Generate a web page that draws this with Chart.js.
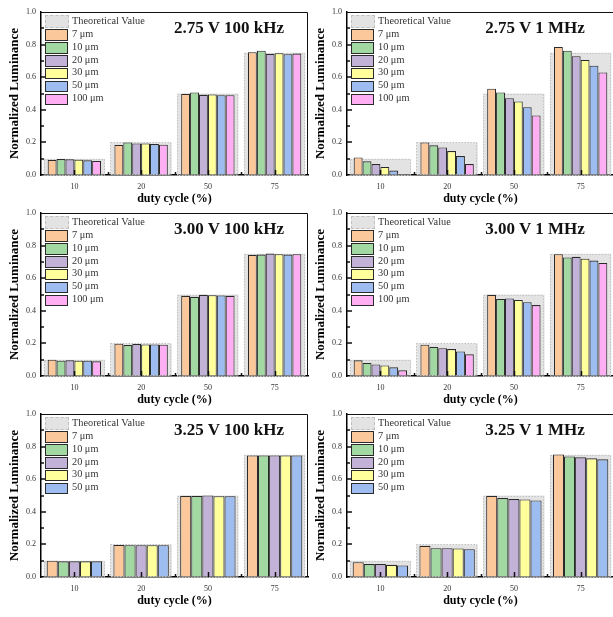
<!DOCTYPE html>
<html>
<head>
<meta charset="utf-8">
<script src="https://cdn.jsdelivr.net/npm/chart.js@4.4.0/dist/chart.umd.min.js"></script>
<style>
  html, body { margin: 0; padding: 0; background: #fff; width: 613px; height: 617px; overflow: hidden; }
  #fig { position: relative; width: 613px; height: 617px; overflow: hidden; }
  .panel { position: absolute; width: 310px; height: 207px; }
  .panel canvas { position: absolute; left: 0; top: 0; }
  .legend { position: absolute; left: 45px; top: 16px; font: 10.3px "Liberation Serif", serif; color: #333; }
  .legend .row { position: relative; height: 12.85px; }
  .legend .sw { position: absolute; left: 0; top: 0.5px; width: 21px; height: 9.5px; border: 1.3px solid #2a2a2a; }
  .legend .sw.theo { background: #e3e3e3; border: 1px dashed #c0c0c0; width: 22px; height: 11px; top: -1px; }
  .legend .lbl { position: absolute; left: 27px; top: -1px; white-space: nowrap; line-height: 12px; }
  .ptitle { position: absolute; top: 18px; width: 200px; margin-left: -100px; text-align: center;
            font: bold 17px "Liberation Serif", serif; color: #111; line-height: 20px; }
</style>
</head>
<body>
<div id="fig"></div>
<script>
(function () {
  // Catégories (axe x) et valeur théorique
  const dutyCycles = ['10', '20', '50', '75'];
  const theoretical = [0.1, 0.2, 0.5, 0.75];

  // Largeurs de pixel et couleurs des séries
  const pixelWidths = ['7 μm', '10 μm', '20 μm', '30 μm', '50 μm', '100 μm'];
  const barColors = ['#FAC89B', '#A2D8A2', '#C2B2D8', '#FFFF9C', '#9DBDF0', '#FFAEF4'];

  const panelTitles = ['2.75 V 100 kHz', '2.75 V 1 MHz', '3.00 V 100 kHz', '3.00 V 1 MHz', '3.25 V 100 kHz', '3.25 V 1 MHz'];

  // Luminance normalisée : une ligne par largeur de pixel
  const lum275_100k = [
    [0.092, 0.184, 0.498, 0.753],
    [0.098, 0.200, 0.506, 0.763],
    [0.096, 0.194, 0.492, 0.743],
    [0.094, 0.194, 0.494, 0.747],
    [0.090, 0.190, 0.490, 0.741],
    [0.086, 0.186, 0.490, 0.745]
  ];
  const lum275_1M = [
    [0.108, 0.200, 0.529, 0.786],
    [0.084, 0.182, 0.506, 0.763],
    [0.067, 0.169, 0.471, 0.729],
    [0.049, 0.147, 0.451, 0.706],
    [0.027, 0.116, 0.416, 0.671],
    [0.006, 0.067, 0.365, 0.629]
  ];
  const lum300_100k = [
    [0.100, 0.198, 0.492, 0.743],
    [0.094, 0.190, 0.486, 0.745],
    [0.096, 0.196, 0.498, 0.751],
    [0.094, 0.194, 0.496, 0.747],
    [0.094, 0.194, 0.494, 0.745],
    [0.090, 0.192, 0.492, 0.747]
  ];
  const lum300_1M = [
    [0.096, 0.192, 0.498, 0.747],
    [0.080, 0.178, 0.473, 0.727],
    [0.071, 0.171, 0.476, 0.731],
    [0.065, 0.165, 0.467, 0.720],
    [0.053, 0.151, 0.453, 0.708],
    [0.035, 0.133, 0.435, 0.694]
  ];
  const lum325_100k = [
    [0.100, 0.197, 0.498, 0.746],
    [0.096, 0.195, 0.498, 0.746],
    [0.096, 0.195, 0.500, 0.746],
    [0.096, 0.195, 0.496, 0.746],
    [0.096, 0.195, 0.496, 0.746]
  ];
  const lum325_1M = [
    [0.091, 0.191, 0.498, 0.752],
    [0.079, 0.177, 0.484, 0.740],
    [0.079, 0.177, 0.478, 0.734],
    [0.075, 0.175, 0.476, 0.728],
    [0.071, 0.171, 0.470, 0.722]
  ];

  const panelData = [lum275_100k, lum275_1M, lum300_100k, lum300_1M, lum325_100k, lum325_1M];

  const serif = '"Liberation Serif", "Times New Roman", serif';

  // Contour pointillé des barres théoriques + cadre + graduations intérieures
  const framePlugin = {
    id: 'frame',
    afterDatasetDraw(chart, args) {
      if (args.index !== 0) return;
      const ctx = chart.ctx;
      ctx.save();
      ctx.strokeStyle = '#c2c2c2';
      ctx.lineWidth = 1;
      ctx.setLineDash([1.5, 1.5]);
      args.meta.data.forEach(bar => {
        const p = bar.getProps(['x', 'y', 'base', 'width'], true);
        ctx.strokeRect(Math.round(p.x - p.width / 2) + 0.5, Math.round(p.y) + 0.5,
                       Math.round(p.width) - 1, Math.round(p.base - p.y));
      });
      ctx.restore();
    },
    afterDatasetsDraw(chart) {
      const ctx = chart.ctx;
      const a = chart.chartArea;
      const xs = chart.scales.x, ys = chart.scales.y;
      ctx.save();
      ctx.strokeStyle = '#111';
      ctx.lineWidth = 1;
      ctx.beginPath();
      ctx.moveTo(a.left, a.top + 0.5);
      ctx.lineTo(a.right - 0.5, a.top + 0.5);
      ctx.lineTo(a.right - 0.5, a.bottom);
      ctx.stroke();
      // graduations y (vers l'intérieur)
      ctx.lineWidth = 1.5;
      ctx.beginPath();
      for (let i = 1; i < 10; i++) {
        const py = Math.round(ys.getPixelForValue(i / 10));
        const len = i % 2 === 0 ? 5 : 3;
        ctx.moveTo(a.left, py);
        ctx.lineTo(a.left + len, py);
      }
      // graduations x
      for (let i = 0; i < dutyCycles.length; i++) {
        const px = Math.round(xs.getPixelForTick(i)) + 0.5;
        ctx.moveTo(px, a.bottom);
        ctx.lineTo(px, a.bottom - 5);
        if (i < dutyCycles.length - 1) {
          const mx = Math.round((xs.getPixelForTick(i) + xs.getPixelForTick(i + 1)) / 2) + 0.5;
          ctx.moveTo(mx, a.bottom);
          ctx.lineTo(mx, a.bottom - 3);
        }
      }
      ctx.stroke();
      ctx.restore();
    }
  };

  function buildPanel(idx) {
    const col = idx % 2, row = Math.floor(idx / 2);
    const series = panelData[idx];

    const panel = document.createElement('div');
    panel.className = 'panel';
    panel.style.left = (col === 0 ? 0 : 306) + 'px';
    panel.style.top = (row * 201) + 'px';

    const canvas = document.createElement('canvas');
    canvas.width = 310;
    canvas.height = 207;
    panel.appendChild(canvas);

    // Légende dans la zone du graphique
    const leg = document.createElement('div');
    leg.className = 'legend';
    const rows = [{ label: 'Theoretical Value', theo: true }]
      .concat(series.map((_, i) => ({ label: pixelWidths[i], color: barColors[i] })));
    rows.forEach(r => {
      const d = document.createElement('div');
      d.className = 'row';
      const sw = document.createElement('div');
      sw.className = 'sw' + (r.theo ? ' theo' : '');
      if (!r.theo) sw.style.background = r.color;
      const lb = document.createElement('div');
      lb.className = 'lbl';
      lb.textContent = r.label;
      d.appendChild(sw);
      d.appendChild(lb);
      leg.appendChild(d);
    });
    panel.appendChild(leg);

    const t = document.createElement('div');
    t.className = 'ptitle';
    t.style.left = '229px';
    t.textContent = panelTitles[idx];
    panel.appendChild(t);

    document.getElementById('fig').appendChild(panel);

    const datasets = [{
      label: 'Theoretical Value',
      data: theoretical,
      backgroundColor: '#e3e3e3',
      borderWidth: 0,
      grouped: false,
      categoryPercentage: 0.92,
      barPercentage: 1,
      order: 1
    }];
    series.forEach((vals, i) => {
      datasets.push({
        label: pixelWidths[i],
        data: vals,
        backgroundColor: barColors[i],
        borderColor: '#2a2a2a',
        borderWidth: 1.1,
        categoryPercentage: series.length === 5 ? 0.83 : 0.8,
        barPercentage: 1,
        order: 0
      });
    });

    new Chart(canvas.getContext('2d'), {
      type: 'bar',
      data: { labels: dutyCycles, datasets: datasets },
      options: {
        responsive: false,
        animation: false,
        devicePixelRatio: 1,
        layout: { padding: { top: 12, right: 2, bottom: 0, left: 0 } },
        plugins: { legend: { display: false }, tooltip: { enabled: false } },
        scales: {
          x: {
            z: 1,
            grid: { drawOnChartArea: false, drawTicks: false },
            border: { display: true, color: '#000', width: 1.5 },
            ticks: { color: '#333', padding: 7, font: { family: serif, size: 8 } },
            title: {
              display: true, text: 'duty cycle (%)', color: '#000',
              font: { family: serif, size: 12, weight: 'bold' },
              padding: { top: 0, bottom: 1 }
            },
            afterFit(scale) { scale.height = 32; }
          },
          y: {
            z: 1,
            min: 0, max: 1,
            grid: { drawOnChartArea: false, drawTicks: false },
            border: { display: true, color: '#000', width: 1.5 },
            ticks: {
              stepSize: 0.2, color: '#333', padding: 5,
              font: { family: serif, size: 8 },
              callback: v => Number(v).toFixed(1)
            },
            title: {
              display: true, text: 'Normalized Luminance', color: '#000',
              font: { family: serif, size: 13, weight: 'bold' },
              padding: { top: 6.5, bottom: 0 }
            },
            afterFit(scale) { scale.width = 41; }
          }
        }
      },
      plugins: [framePlugin]
    });
  }

  for (let i = 0; i < 6; i++) buildPanel(i);
})();
</script>
</body>
</html>
